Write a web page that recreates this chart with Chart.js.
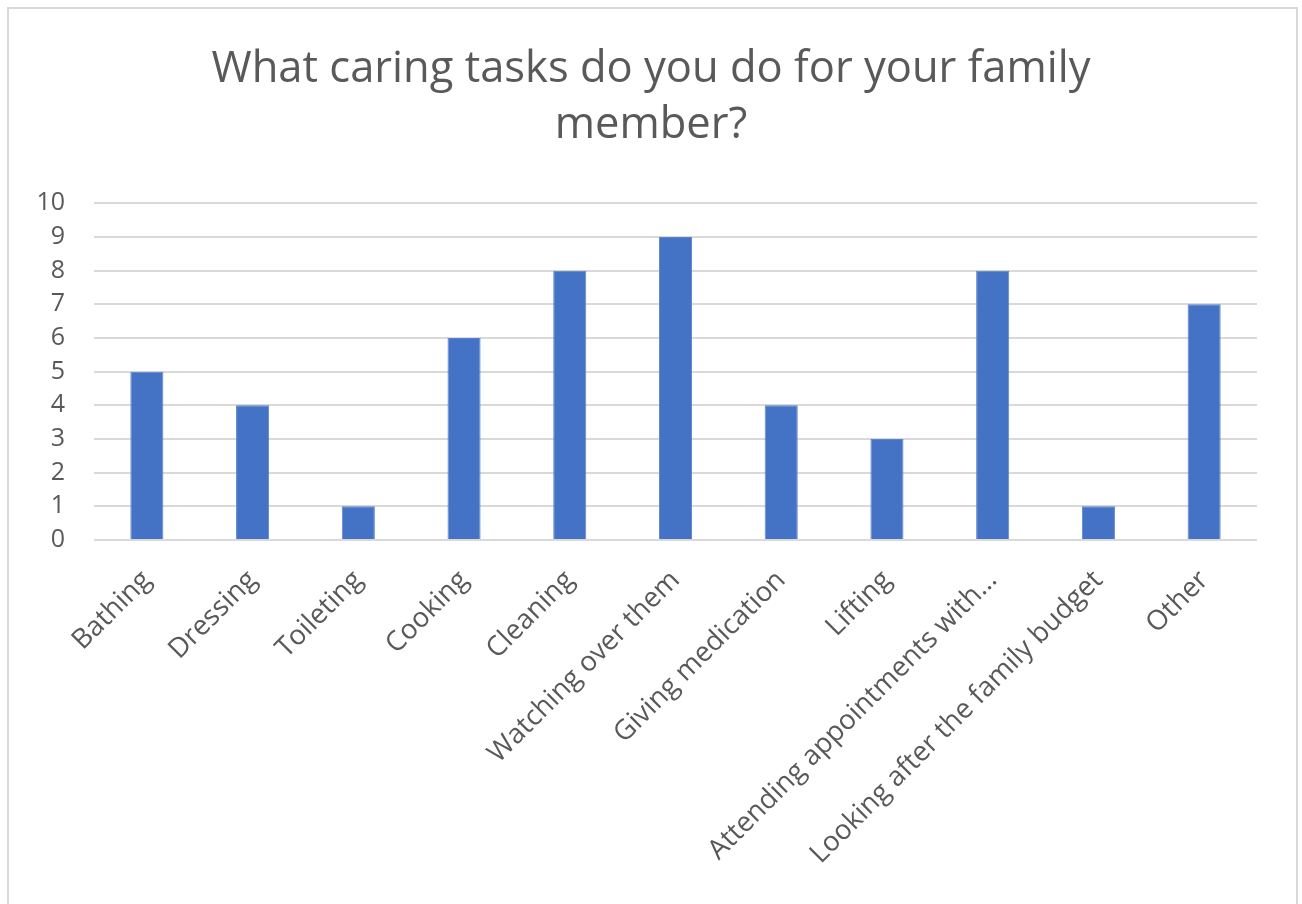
<!DOCTYPE html>
<html>
<head>
<meta charset="utf-8">
<script src="https://cdn.jsdelivr.net/npm/chart.js@4.4.1/dist/chart.umd.min.js"></script>
<style>
  html, body { margin: 0; padding: 0; background: #fff; }
  #wrap { position: relative; width: 1302px; height: 904px; overflow: hidden; }
  #frame {
    position: absolute; left: 7px; top: 7px; width: 1287px; height: 1000px;
    border: 2px solid #d9d9d9; pointer-events: none;
  }
</style>
</head>
<body>
<div id="wrap">
  <canvas id="chart" width="1302" height="904"></canvas>
  <div id="frame"></div>
</div>
<script>
// 数据
const categories = [
  'Bathing', 'Dressing', 'Toileting', 'Cooking', 'Cleaning', 'Watching over them',
  'Giving medication', 'Lifting', 'Attending appointments with…',
  'Looking after the family budget', 'Other'
];
const counts = [5, 4, 1, 6, 8, 9, 4, 3, 8, 1, 7];
const titleLines = ['What caring tasks do you do for your family', 'member?'];

const textColor = '#595959';
const fontFamily = '"Open Sans", "Noto Sans", sans-serif';

// y轴标签会超出左边留白，布局后把轴的左边界放到0，避免被裁掉
const unclipYLabels = {
  id: 'unclipYLabels',
  afterLayout(chart) {
    chart.scales.y.left = 0;
  }
};

const ctx = document.getElementById('chart').getContext('2d');
new Chart(ctx, {
  type: 'bar',
  data: {
    labels: categories,
    datasets: [{
      data: counts,
      backgroundColor: '#4472C4',
      borderColor: '#5b84cc',
      borderWidth: 1,
      categoryPercentage: 1,
      barPercentage: 0.313
    }]
  },
  plugins: [unclipYLabels],
  options: {
    responsive: false,
    animation: false,
    // 左右对称的留白，让标题居中在整个画布上
    layout: { padding: { left: 45, right: 45, top: 0, bottom: 0 } },
    plugins: {
      legend: { display: false },
      tooltip: { enabled: false },
      title: {
        display: true,
        text: titleLines,
        color: textColor,
        font: { family: fontFamily, size: 43.5, weight: 'normal', lineHeight: 1.28 },
        padding: { top: 42, bottom: 50 }
      }
    },
    scales: {
      x: {
        grid: { display: false },
        border: { display: false },
        ticks: {
          color: textColor,
          font: { family: fontFamily, size: 27.5 },
          maxRotation: 45,
          minRotation: 45,
          autoSkip: false,
          padding: 16
        },
        afterFit: function(scale) { scale.height = 364; }
      },
      y: {
        min: 0,
        max: 10,
        ticks: {
          stepSize: 1,
          color: textColor,
          font: { family: fontFamily, size: 25 },
          padding: 29
        },
        grid: { color: '#d9d9d9', lineWidth: 2, drawTicks: false },
        border: { display: false },
        afterFit: function(scale) { scale.width = 49; }
      }
    }
  }
});
</script>
</body>
</html>
